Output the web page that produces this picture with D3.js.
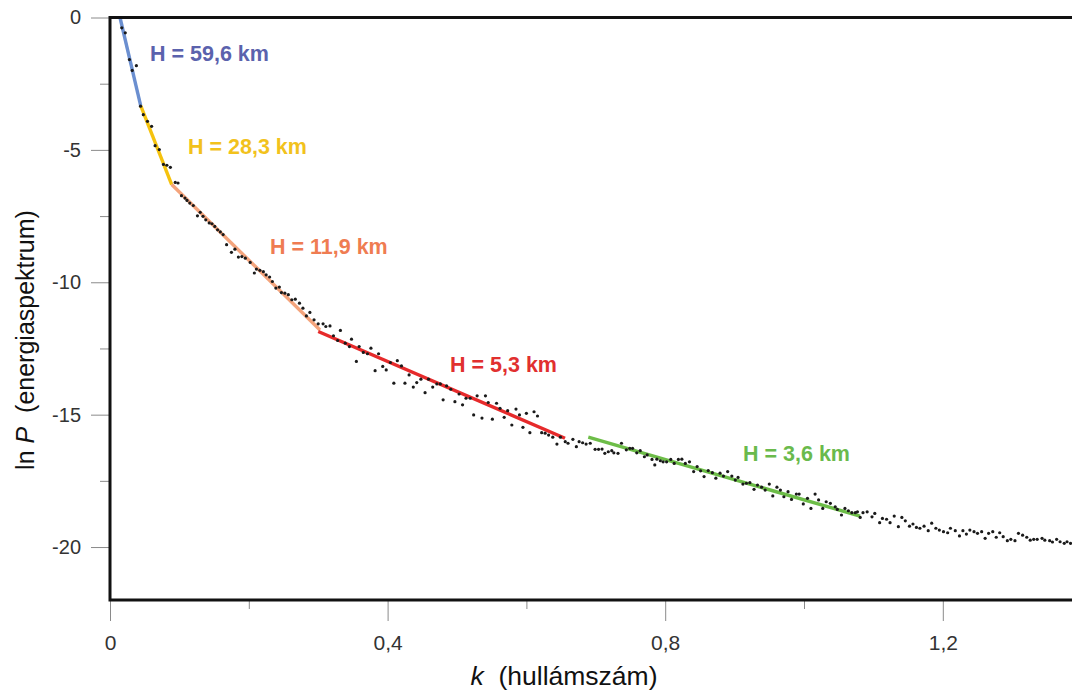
<!DOCTYPE html>
<html>
<head>
<meta charset="utf-8">
<script src="https://cdn.jsdelivr.net/npm/d3@7"></script>
<style>
  html, body { margin: 0; padding: 0; background: #fff; }
  svg { display: block; font-family: Arial, "Liberation Sans", Helvetica, sans-serif; }
</style>
</head>
<body>
<svg id="chart" width="1072" height="691"></svg>
<script>
// Wavenumber k of each spectrum sample
const kValues = [
  0.017, 0.022, 0.028, 0.032, 0.038, 0.044, 0.048, 0.054, 0.060, 0.065,
  0.071, 0.077, 0.082, 0.087, 0.094, 0.098, 0.103, 0.108, 0.111, 0.115,
  0.120, 0.126, 0.130, 0.134, 0.138, 0.143, 0.147, 0.151, 0.155, 0.159,
  0.163, 0.168, 0.175, 0.180, 0.185, 0.190, 0.195, 0.202, 0.208, 0.211,
  0.216, 0.221, 0.225, 0.230, 0.234, 0.239, 0.244, 0.247, 0.252, 0.257,
  0.262, 0.267, 0.273, 0.278, 0.283, 0.288, 0.294, 0.300, 0.307, 0.311,
  0.317, 0.322, 0.328, 0.332, 0.339, 0.345, 0.348, 0.355, 0.359, 0.365,
  0.371, 0.376, 0.382, 0.387, 0.393, 0.398, 0.404, 0.409, 0.414, 0.420,
  0.425, 0.431, 0.437, 0.442, 0.448, 0.454, 0.459, 0.465, 0.471, 0.476,
  0.480, 0.485, 0.491, 0.497, 0.503, 0.508, 0.513, 0.519, 0.524, 0.529,
  0.536, 0.541, 0.545, 0.551, 0.557, 0.562, 0.568, 0.573, 0.579, 0.585,
  0.590, 0.595, 0.600, 0.605, 0.611, 0.616, 0.622, 0.627, 0.632, 0.638,
  0.644, 0.649, 0.656, 0.660, 0.667, 0.672, 0.676, 0.681, 0.686, 0.692,
  0.699, 0.704, 0.709, 0.713, 0.718, 0.723, 0.726, 0.732, 0.737, 0.744,
  0.749, 0.753, 0.759, 0.764, 0.770, 0.774, 0.781, 0.785, 0.788, 0.793,
  0.797, 0.802, 0.808, 0.813, 0.819, 0.824, 0.829, 0.835, 0.841, 0.846,
  0.851, 0.856, 0.862, 0.868, 0.873, 0.879, 0.884, 0.890, 0.896, 0.901,
  0.905, 0.912, 0.917, 0.922, 0.928, 0.933, 0.939, 0.944, 0.950, 0.955,
  0.961, 0.966, 0.971, 0.977, 0.982, 0.989, 0.993, 0.999, 1.005, 1.010,
  1.016, 1.021, 1.027, 1.032, 1.038, 1.045, 1.048, 1.054, 1.059, 1.064,
  1.069, 1.074, 1.077, 1.081, 1.085, 1.091, 1.098, 1.102, 1.109, 1.113,
  1.119, 1.124, 1.130, 1.136, 1.141, 1.146, 1.152, 1.157, 1.162, 1.167,
  1.173, 1.179, 1.184, 1.190, 1.195, 1.201, 1.207, 1.211, 1.218, 1.224,
  1.229, 1.234, 1.239, 1.245, 1.250, 1.256, 1.261, 1.266, 1.272, 1.277,
  1.282, 1.287, 1.293, 1.298, 1.304, 1.309, 1.315, 1.321, 1.326, 1.331,
  1.336, 1.343, 1.347, 1.354, 1.358, 1.364, 1.369, 1.375, 1.379, 1.384
];

// ln P (energy spectrum) of each sample
const lnPValues = [
  -0.39, -0.58, -1.59, -2.00, -1.82, -3.35, -3.67, -3.92, -4.11, -4.84,
  -4.99, -5.55, -5.58, -5.66, -6.23, -6.25, -6.73, -6.82, -6.91, -7.01,
  -7.10, -7.49, -7.36, -7.51, -7.64, -7.76, -7.79, -7.89, -8.02, -8.10,
  -8.20, -8.58, -8.87, -8.75, -9.05, -9.03, -9.09, -9.25, -9.65, -9.50,
  -9.55, -9.60, -9.72, -9.80, -9.97, -10.22, -10.18, -10.39, -10.41, -10.47,
  -10.66, -10.64, -10.79, -10.98, -11.27, -11.14, -11.42, -11.57, -11.57, -11.67,
  -11.65, -12.02, -12.20, -11.82, -12.30, -12.43, -12.15, -12.99, -12.43, -12.65,
  -12.70, -12.49, -13.34, -12.70, -13.18, -13.31, -13.03, -13.81, -12.96, -13.16,
  -13.81, -13.50, -13.96, -13.79, -13.66, -14.17, -13.66, -13.96, -13.84, -13.84,
  -14.44, -13.91, -14.04, -14.51, -14.22, -14.63, -14.38, -14.38, -15.01, -14.29,
  -15.13, -14.29, -14.54, -15.17, -14.57, -14.76, -15.10, -14.85, -15.39, -14.79,
  -15.01, -15.48, -14.95, -15.68, -14.89, -15.05, -15.68, -15.70, -15.77, -15.85,
  -16.11, -15.85, -16.02, -16.08, -15.93, -16.21, -16.02, -16.06, -16.11, -16.08,
  -16.31, -16.31, -16.30, -16.46, -16.40, -16.36, -16.44, -16.46, -16.08, -16.33,
  -16.27, -16.27, -16.44, -16.36, -16.59, -16.52, -16.69, -16.90, -16.68, -16.74,
  -16.78, -16.78, -16.69, -16.84, -16.69, -16.68, -16.84, -16.78, -17.15, -16.96,
  -17.12, -17.34, -17.11, -17.19, -17.40, -17.21, -17.32, -17.15, -17.32, -17.47,
  -17.37, -17.62, -17.59, -17.57, -17.82, -17.66, -17.74, -17.85, -17.62, -18.07,
  -17.74, -17.85, -18.10, -17.91, -18.20, -18.00, -18.00, -18.37, -18.16, -18.54,
  -18.00, -18.22, -18.54, -18.29, -18.35, -18.48, -18.58, -18.79, -18.54, -18.63,
  -18.70, -18.70, -18.67, -18.88, -18.70, -18.67, -18.86, -18.73, -19.08, -18.92,
  -18.95, -19.08, -18.83, -19.23, -18.88, -19.01, -19.21, -19.13, -19.26, -19.29,
  -19.21, -19.38, -19.10, -19.29, -19.36, -19.42, -19.46, -19.29, -19.38, -19.58,
  -19.38, -19.51, -19.36, -19.42, -19.48, -19.42, -19.67, -19.48, -19.42, -19.63,
  -19.46, -19.61, -19.76, -19.71, -19.76, -19.48, -19.55, -19.63, -19.74, -19.71,
  -19.71, -19.67, -19.74, -19.76, -19.81, -19.71, -19.80, -19.86, -19.80, -19.86
];

// Straight-line fits: start/end wavenumber and ln P of each segment
const segK0    = [0.0144, 0.0442, 0.0889, 0.3001, 0.6892];
const segK1    = [0.0442, 0.0889, 0.3026, 0.6556, 1.0807];
const segLnP0  = [0.00, -3.33, -6.31, -11.86, -15.85];
const segLnP1  = [-3.33, -6.31, -11.80, -15.89, -18.83];
const segLabels = ["H = 59,6 km", "H = 28,3 km", "H = 11,9 km", "H = 5,3 km", "H = 3,6 km"];

// Axis ticks
const xTicks = [0, 0.4, 0.8, 1.2];
const xMinorTicks = [0.2, 0.6, 1.0];
const yTicks = [0, -5, -10, -15, -20];
const yMinorTicks = [-2.5, -7.5, -12.5, -17.5];

// Styling
const lineColors  = ["#6b8fd0", "#f5c20e", "#f4a47c", "#e62a2b", "#6dbd48"];
const labelColors = ["#5b62ad", "#f2c21c", "#ef7c52", "#e1302f", "#6aba4c"];
// label anchor (left x, baseline y) in pixels
const labelPos = [[150, 61], [188, 154], [270, 254], [450, 372], [743, 461]];

const W = 1072, H = 691;
const plot = { left: 110, top: 17.5, bottom: 600, right: 1072 };

const x = d3.scaleLinear().domain([0, 1.4]).range([plot.left, plot.left + 694 * 1.4]);
const y = d3.scaleLinear().domain([-22, 0]).range([plot.bottom, plot.top]);

const svg = d3.select("#chart");
// decimal comma and plain hyphen for negatives
const fmt = v => String(v).replace(".", ",");

// clip region for the data
svg.append("defs").append("clipPath").attr("id", "plotClip")
  .append("rect")
  .attr("x", plot.left).attr("y", plot.top)
  .attr("width", plot.right - plot.left).attr("height", plot.bottom - plot.top);

// Y axis (major + minor ticks)
const yAxis = svg.append("g").attr("transform", `translate(${plot.left},0)`)
  .call(d3.axisLeft(y).tickValues(yTicks).tickSize(19).tickPadding(10).tickFormat(fmt));
yAxis.select(".domain").remove();
yAxis.selectAll(".tick line").attr("stroke", "#8a8a8a").attr("stroke-width", 1);
yAxis.selectAll(".tick text").attr("fill", "#333").style("font-size", "20px");

const yMinor = svg.append("g").attr("transform", `translate(${plot.left},0)`)
  .call(d3.axisLeft(y).tickValues(yMinorTicks).tickSize(10).tickFormat(""));
yMinor.select(".domain").remove();
yMinor.selectAll(".tick line").attr("stroke", "#8a8a8a").attr("stroke-width", 1);

// X axis (major + minor ticks)
const xAxis = svg.append("g").attr("transform", `translate(0,${plot.bottom})`)
  .call(d3.axisBottom(x).tickValues(xTicks).tickSize(21).tickPadding(14).tickFormat(fmt));
xAxis.select(".domain").remove();
xAxis.selectAll(".tick line").attr("stroke", "#8a8a8a").attr("stroke-width", 1);
xAxis.selectAll(".tick text").attr("fill", "#333").style("font-size", "21px");

const xMinor = svg.append("g").attr("transform", `translate(0,${plot.bottom})`)
  .call(d3.axisBottom(x).tickValues(xMinorTicks).tickSize(9).tickFormat(""));
xMinor.select(".domain").remove();
xMinor.selectAll(".tick line").attr("stroke", "#8a8a8a").attr("stroke-width", 1);

// Fitted straight segments
const data = svg.append("g").attr("clip-path", "url(#plotClip)");
data.selectAll("line.fit")
  .data(segK0.map((k0, i) => ({ k0, k1: segK1[i], p0: segLnP0[i], p1: segLnP1[i], i })))
  .join("line")
  .attr("class", "fit")
  .attr("x1", d => x(d.k0)).attr("y1", d => y(d.p0))
  .attr("x2", d => x(d.k1)).attr("y2", d => y(d.p1))
  .attr("stroke", d => lineColors[d.i])
  .attr("stroke-width", 3.4)
  .attr("stroke-linecap", "butt");

// Spectrum samples
data.selectAll("circle.pt")
  .data(kValues.map((k, i) => ({ k, p: lnPValues[i] })))
  .join("circle")
  .attr("class", "pt")
  .attr("cx", d => x(d.k)).attr("cy", d => y(d.p))
  .attr("r", 1.6)
  .attr("fill", "#1a1a1a");

// Frame (left, top, bottom)
const frame = svg.append("g").attr("stroke", "#111").attr("stroke-width", 3).attr("fill", "none");
frame.append("path")
  .attr("d", `M${plot.right},${plot.top} H${plot.left} V${plot.bottom} H${plot.right}`);

// Segment labels
svg.append("g").selectAll("text.seg")
  .data(segLabels)
  .join("text")
  .attr("class", "seg")
  .attr("x", (d, i) => labelPos[i][0])
  .attr("y", (d, i) => labelPos[i][1])
  .attr("fill", (d, i) => labelColors[i])
  .style("font-size", "21.5px").style("font-weight", "bold")
  .text(d => d);

// Axis titles
const xt = svg.append("text")
  .attr("x", 564).attr("y", 685)
  .attr("text-anchor", "middle")
  .attr("fill", "#111")
  .style("font-size", "26.5px");
xt.append("tspan").style("font-style", "italic").text("k");
xt.append("tspan").attr("xml:space", "preserve").text("  (hullámszám)");

const yt = svg.append("text")
  .attr("transform", "translate(34,340) rotate(-90)")
  .attr("text-anchor", "middle")
  .attr("fill", "#111")
  .style("font-size", "25px");
yt.append("tspan").text("ln ");
yt.append("tspan").style("font-style", "italic").text("P");
yt.append("tspan").attr("xml:space", "preserve").text("  (energiaspektrum)");
</script>
</body>
</html>
